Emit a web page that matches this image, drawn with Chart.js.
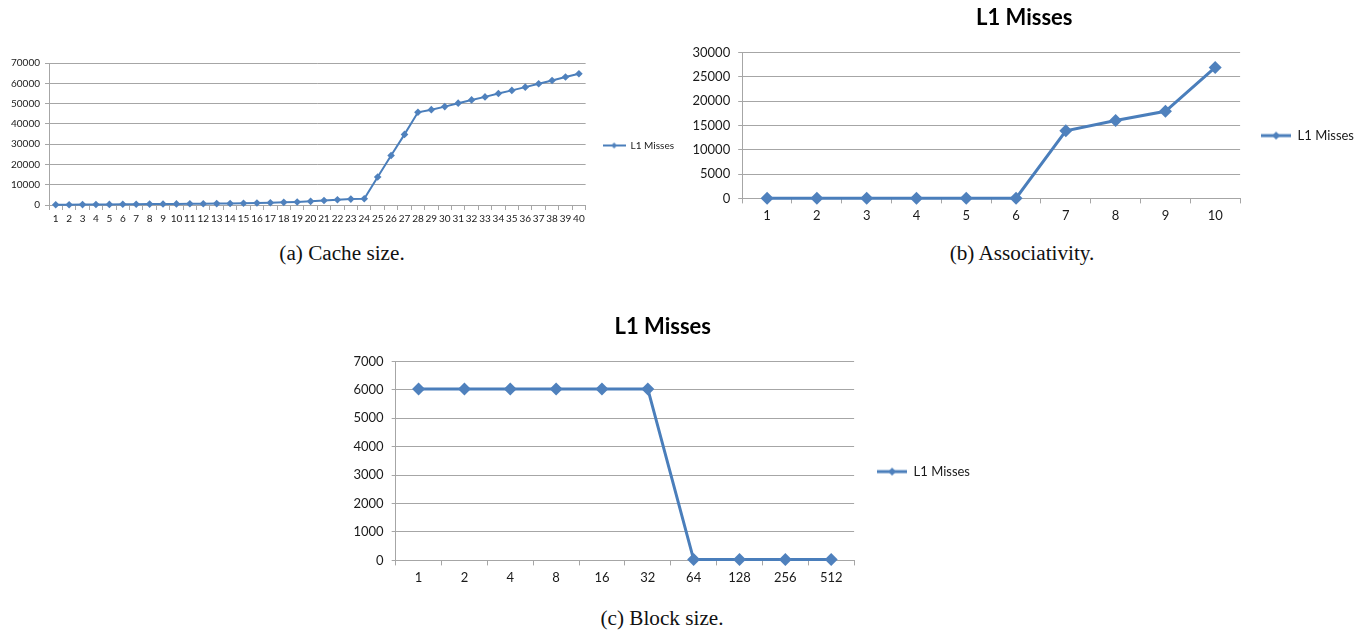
<!DOCTYPE html>
<html>
<head>
<meta charset="utf-8">
<script src="https://cdn.jsdelivr.net/npm/chart.js@4.4.0/dist/chart.umd.min.js"></script>
<style>
  body { margin: 0; background: #fff; width: 1359px; height: 630px; overflow: hidden; position: relative; }
  .box { position: absolute; }
  .cap { position: absolute; font-family: "Liberation Serif", serif; font-size: 20px; color: #111;
         transform: translateX(-50%) scaleX(1.06); white-space: nowrap; }
</style>
</head>
<body>
<div class="box" style="left:0px; top:45px; width:690px; height:185px;"><canvas id="cacheSize"></canvas></div>
<div class="box" style="left:680px; top:0px; width:690px; height:235px;"><canvas id="assoc"></canvas></div>
<div class="box" style="left:340px; top:300px; width:650px; height:300px;"><canvas id="blockSize"></canvas></div>

<div class="cap" style="left:342px; top:242px;">(a) Cache size.</div>
<div class="cap" style="left:1022px; top:242px;">(b) Associativity.</div>
<div class="cap" style="left:662px; top:607px;">(c) Block size.</div>

<script>
// (a) cache size
const cacheLabels = ['1','2','3','4','5','6','7','8','9','10','11','12','13','14','15','16','17','18','19','20',
  '21','22','23','24','25','26','27','28','29','30','31','32','33','34','35','36','37','38','39','40'];
const cacheMisses = [100, 150, 200, 250, 300, 350, 400, 450, 500, 550, 600, 650, 700, 750, 850, 950, 1100, 1300, 1500, 1800,
  2200, 2600, 2900, 3100, 13800, 24400, 34800, 45700, 47000, 48500, 50200, 51800, 53300, 55000, 56500, 58100, 59800, 61400, 63100, 64700];

// (b) associativity
const assocLabels = ['1','2','3','4','5','6','7','8','9','10'];
const assocMisses = [50, 50, 50, 50, 50, 50, 13900, 16000, 17900, 26900];

// (c) block size
const blockLabels = ['1','2','4','8','16','32','64','128','256','512'];
const blockMisses = [6030, 6030, 6030, 6030, 6030, 6030, 30, 30, 30, 30];

const seriesName = 'L1 Misses';
const lineCol = '#4A7EBB';
const markCol = '#4F81BD';
const gridCol = '#a6a6a6';
const txtCol = '#1a1a1a';
const fam = 'Lato';

// legend key: line with a diamond in the middle
function legendKey(w, h, lw, r) {
  const c = document.createElement('canvas');
  c.width = w; c.height = h;
  const g = c.getContext('2d');
  g.strokeStyle = lineCol; g.lineWidth = lw;
  g.beginPath(); g.moveTo(0, h / 2); g.lineTo(w, h / 2); g.stroke();
  g.fillStyle = markCol;
  g.beginPath();
  g.moveTo(w / 2, h / 2 - r); g.lineTo(w / 2 + r, h / 2); g.lineTo(w / 2, h / 2 + r); g.lineTo(w / 2 - r, h / 2);
  g.closePath(); g.fill();
  return c;
}

function makeChart(id, labels, values, s) {
  return new Chart(document.getElementById(id), {
    type: 'line',
    data: {
      labels: labels,
      datasets: [{
        label: seriesName,
        data: values,
        borderColor: lineCol,
        backgroundColor: markCol,
        borderWidth: s.lineW,
        pointStyle: 'rectRot',
        pointRadius: s.pointR,
        pointBorderWidth: 0,
        pointBackgroundColor: markCol,
        tension: 0,
        clip: false
      }]
    },
    options: {
      responsive: true,
      maintainAspectRatio: false,
      animation: false,
      layout: { padding: s.pad },
      plugins: {
        title: {
          display: !!s.title,
          text: s.title || '',
          color: '#000',
          font: { family: fam, size: 22, weight: 'bold' },
          padding: s.titlePad
        },
        legend: {
          position: 'right',
          title: { display: s.legendShift > 0, text: ' ', font: { size: 1 }, padding: { top: s.legendShift, bottom: 0 } },
          labels: {
            usePointStyle: true,
            pointStyle: legendKey(s.keyW, 12, s.keyLine, s.keyR),
            pointStyleWidth: s.keyW,
            padding: s.legendPad,
            color: txtCol,
            font: { family: fam, size: s.legendFont }
          }
        },
        tooltip: { enabled: false }
      },
      scales: {
        x: {
          offset: true,
          grid: { offset: true, drawOnChartArea: false, color: gridCol, tickLength: 5 },
          border: { color: gridCol },
          ticks: { autoSkip: false, maxRotation: 0, color: txtCol, padding: s.xPad, font: { family: fam, size: s.tickFont } }
        },
        y: {
          min: 0,
          max: s.yMax,
          grid: { color: gridCol, tickLength: 4 },
          border: { color: gridCol },
          ticks: {
            stepSize: s.yStep, color: txtCol, padding: s.yPad, font: { family: fam, size: s.tickFont },
            callback: v => String(v)
          }
        }
      }
    }
  });
}

makeChart('cacheSize', cacheLabels, cacheMisses, {
  lineW: 2, pointR: 3.8, tickFont: 10, legendFont: 10, keyW: 23, keyLine: 2, keyR: 3,
  legendPad: 17, legendShift: 0, yMax: 70000, yStep: 10000, xPad: 3, yPad: 5,
  pad: { left: 6, right: 6, top: 18, bottom: 2 }
});

makeChart('assoc', assocLabels, assocMisses, {
  lineW: 3, pointR: 6.5, tickFont: 13, legendFont: 13, keyW: 30, keyLine: 3, keyR: 4,
  legendPad: 21, legendShift: 41, yMax: 30000, yStep: 5000, xPad: 5, yPad: 8,
  title: seriesName, titlePad: { top: 5, bottom: 21 },
  pad: { left: 4.5, right: 6, top: 0, bottom: 6 }
});

makeChart('blockSize', blockLabels, blockMisses, {
  lineW: 3, pointR: 6.5, tickFont: 13, legendFont: 13, keyW: 30, keyLine: 3, keyR: 4,
  legendPad: 23, legendShift: 51, yMax: 7000, yStep: 1000, xPad: 5, yPad: 8,
  title: seriesName, titlePad: { top: 14, bottom: 21 },
  pad: { left: 5.5, right: 10, top: 0, bottom: 9 }
});
</script>
</body>
</html>
